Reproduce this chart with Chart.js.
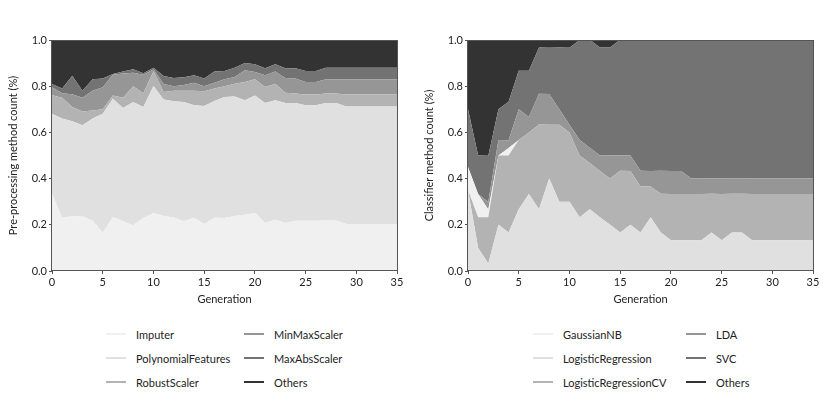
<!DOCTYPE html>
<html>
<head>
<meta charset="utf-8">
<title>Method counts per generation</title>
<script src="https://cdn.jsdelivr.net/npm/chart.js@4.4.1/dist/chart.umd.min.js"></script>
<style>
  body { margin: 0; width: 831px; height: 402px; background: #fff; position: relative; overflow: hidden; font-family: Lato, "Open Sans", sans-serif; color: #222; }
  canvas { position: absolute; top: 0; }
  #preChart { left: 0; }
  #clfChart { left: 416px; }
  .legend { position: absolute; top: 322px; display: grid; grid-auto-flow: column; grid-template-rows: repeat(3, 24px); font-size: 11px; }
  .legend div { display: flex; align-items: center; white-space: nowrap; }
  .legend span { display: inline-block; width: 20px; height: 2px; margin-right: 10px; }
  #preLegend { left: 106px; grid-template-columns: 138px 120px; }
  #clfLegend { left: 533px; grid-template-columns: 153px 120px; }
</style>
</head>
<body>
<canvas id="preChart" width="420" height="310"></canvas>
<canvas id="clfChart" width="415" height="310"></canvas>
<div class="legend" id="preLegend"></div>
<div class="legend" id="clfLegend"></div>

<script>
// generations on the x axis (last tick sits on 34 but is labelled 35, like the original)
const generations = [0,1,2,3,4,5,6,7,8,9,10,11,12,13,14,15,16,17,18,19,20,21,22,23,24,25,26,27,28,29,30,31,32,33,34];
const xTickValues = [0, 5, 10, 15, 20, 25, 30, 34];
const xTickLabels = ['0', '5', '10', '15', '20', '25', '30', '35'];

// pre-processing shares
const imputer = [0.335,0.231,0.237,0.237,0.219,0.166,0.234,0.215,0.198,0.229,0.251,0.238,0.232,0.215,0.231,0.203,0.231,0.229,0.238,0.244,0.251,0.208,0.222,0.208,0.218,0.217,0.217,0.219,0.219,0.204,0.204,0.204,0.204,0.204,0.204];
const polynomialFeatures = [0.346,0.429,0.411,0.394,0.441,0.515,0.512,0.491,0.534,0.481,0.550,0.504,0.503,0.517,0.486,0.511,0.505,0.524,0.517,0.495,0.509,0.519,0.517,0.519,0.509,0.500,0.500,0.508,0.508,0.508,0.508,0.508,0.508,0.508,0.508];
const robustScaler = [0.080,0.090,0.062,0.059,0.035,0.019,0.014,0.044,0.068,0.060,0.064,0.033,0.045,0.048,0.063,0.064,0.054,0.047,0.056,0.079,0.070,0.070,0.072,0.045,0.041,0.047,0.047,0.041,0.041,0.052,0.052,0.052,0.052,0.052,0.052];
const minMaxScaler = [0.034,0.020,0.055,0.060,0.085,0.095,0.090,0.105,0.058,0.080,0.007,0.035,0.020,0.025,0.035,0.022,0.025,0.030,0.029,0.051,0.031,0.050,0.053,0.064,0.065,0.054,0.054,0.062,0.062,0.066,0.066,0.066,0.066,0.066,0.066];
const maxAbsScaler = [0.015,0.020,0.080,0.030,0.050,0.038,0.003,0.009,0.015,0.006,0.008,0.034,0.036,0.034,0.032,0.033,0.049,0.036,0.040,0.031,0.034,0.031,0.031,0.042,0.045,0.048,0.048,0.050,0.050,0.050,0.050,0.050,0.050,0.050,0.050];
const otherPre = [0.190,0.210,0.155,0.220,0.170,0.167,0.147,0.136,0.127,0.144,0.120,0.156,0.164,0.161,0.153,0.167,0.136,0.134,0.120,0.100,0.105,0.122,0.105,0.122,0.122,0.134,0.134,0.120,0.120,0.120,0.120,0.120,0.120,0.120,0.120];

// classifier shares (right panel), listed in stacking order bottom -> top
const logisticRegression = [0.35,0.1,0.033,0.2,0.167,0.267,0.333,0.267,0.4,0.3,0.3,0.233,0.267,0.233,0.2,0.167,0.2,0.167,0.233,0.167,0.133,0.133,0.133,0.133,0.167,0.133,0.167,0.167,0.133,0.133,0.133,0.133,0.133,0.133,0.133];
const logisticRegressionCV = [0,0.133,0.2,0.3,0.333,0.3,0.267,0.367,0.233,0.333,0.3,0.267,0.2,0.2,0.2,0.267,0.233,0.2,0.133,0.167,0.2,0.2,0.2,0.2,0.167,0.2,0.167,0.167,0.2,0.2,0.2,0.2,0.2,0.2,0.2];
const gaussianNB = [0.1,0.1,0.033,0,0.033,0,0,0,0,0,0,0,0,0,0,0,0,0,0,0,0,0,0,0,0,0,0,0,0,0,0,0,0,0,0];
const lda = [0,0,0.033,0.067,0.033,0.133,0.067,0.133,0.133,0.067,0.033,0.067,0.067,0.067,0.1,0.067,0.067,0.067,0.067,0.1,0.1,0.1,0.067,0.067,0.067,0.067,0.067,0.067,0.067,0.067,0.067,0.067,0.067,0.067,0.067];
const svc = [0.25,0.167,0.2,0.133,0.167,0.167,0.2,0.2,0.2,0.267,0.333,0.433,0.467,0.467,0.467,0.5,0.5,0.567,0.567,0.567,0.567,0.567,0.6,0.6,0.6,0.6,0.6,0.6,0.6,0.6,0.6,0.6,0.6,0.6,0.6];
const otherClf = [0.3,0.5,0.5,0.3,0.267,0.133,0.133,0.033,0.033,0.033,0.033,0,0,0.033,0.033,0,0,0,0,0,0,0,0,0,0,0,0,0,0,0,0,0,0,0,0];

const preSeries = [
  { label: 'Imputer', data: imputer, color: '#f0f0f0' },
  { label: 'PolynomialFeatures', data: polynomialFeatures, color: '#e0e0e0' },
  { label: 'RobustScaler', data: robustScaler, color: '#b3b3b3' },
  { label: 'MinMaxScaler', data: minMaxScaler, color: '#969696' },
  { label: 'MaxAbsScaler', data: maxAbsScaler, color: '#737373' },
  { label: 'Others', data: otherPre, color: '#333333' }
];
const clfSeries = [
  { label: 'LogisticRegression', data: logisticRegression, color: '#e0e0e0' },
  { label: 'LogisticRegressionCV', data: logisticRegressionCV, color: '#b3b3b3' },
  { label: 'GaussianNB', data: gaussianNB, color: '#f0f0f0' },
  { label: 'LDA', data: lda, color: '#969696' },
  { label: 'SVC', data: svc, color: '#737373' },
  { label: 'Others', data: otherClf, color: '#333333' }
];
// legend order as printed under each panel
const preLegendOrder = ['Imputer', 'PolynomialFeatures', 'RobustScaler', 'MinMaxScaler', 'MaxAbsScaler', 'Others'];
const clfLegendOrder = ['GaussianNB', 'LogisticRegression', 'LogisticRegressionCV', 'LDA', 'SVC', 'Others'];

const font = { family: 'Lato, "Open Sans", sans-serif', size: 11 };

// box round the plot area (matplotlib style spines)
const framePlugin = {
  id: 'frame',
  afterDraw(chart) {
    const { ctx, chartArea: a } = chart;
    ctx.save();
    ctx.strokeStyle = '#555';
    ctx.lineWidth = 1;
    ctx.strokeRect(a.left - 0.5, a.top + 0.5, a.right - a.left + 1, a.bottom - a.top - 1);
    ctx.restore();
  }
};

function makeChart(id, series, yTitle, rightPad) {
  return new Chart(document.getElementById(id), {
    type: 'line',
    data: {
      labels: generations,
      datasets: series.map((s, i) => ({
        label: s.label,
        data: s.data,
        backgroundColor: s.color,
        borderWidth: 0,
        pointRadius: 0,
        tension: 0,
        fill: i === 0 ? 'origin' : '-1'
      }))
    },
    options: {
      responsive: false,
      devicePixelRatio: 1,
      animation: false,
      layout: { padding: { top: 40, right: rightPad, bottom: 0, left: 0 } },
      plugins: { legend: { display: false }, tooltip: { enabled: false } },
      scales: {
        x: {
          type: 'linear',
          min: 0,
          max: 34,
          afterFit: (scale) => { scale.height = 39; },
          afterBuildTicks: (scale) => { scale.ticks = xTickValues.map(v => ({ value: v })); },
          ticks: {
            autoSkip: false,
            maxRotation: 0,
            padding: 2,
            color: '#222',
            font: font,
            callback: (v) => xTickLabels[xTickValues.indexOf(v)]
          },
          grid: { drawOnChartArea: false, tickLength: 3, color: '#555' },
          border: { display: false },
          title: { display: true, text: 'Generation', color: '#222', font: font, padding: { top: 0, bottom: 4 } }
        },
        y: {
          stacked: true,
          min: 0,
          max: 1,
          afterFit: (scale) => { scale.width = 52; },
          ticks: { stepSize: 0.2, padding: 2, color: '#222', font: font, callback: (v) => v.toFixed(1) },
          grid: { drawOnChartArea: false, tickLength: 3, color: '#555' },
          border: { display: false },
          title: { display: true, text: yTitle, color: '#222', font: font, padding: { top: 7, bottom: 0 } }
        }
      }
    },
    plugins: [framePlugin]
  });
}

function makeLegend(id, series, order) {
  const box = document.getElementById(id);
  order.forEach(name => {
    const s = series.find(d => d.label === name);
    const item = document.createElement('div');
    item.innerHTML = '<span style="background:' + s.color + '"></span>' + s.label;
    box.appendChild(item);
  });
}

makeChart('preChart', preSeries, 'Pre-processing method count (%)', 23);
makeChart('clfChart', clfSeries, 'Classifier method count (%)', 18);
makeLegend('preLegend', preSeries, preLegendOrder);
makeLegend('clfLegend', clfSeries, clfLegendOrder);
</script>
</body>
</html>
